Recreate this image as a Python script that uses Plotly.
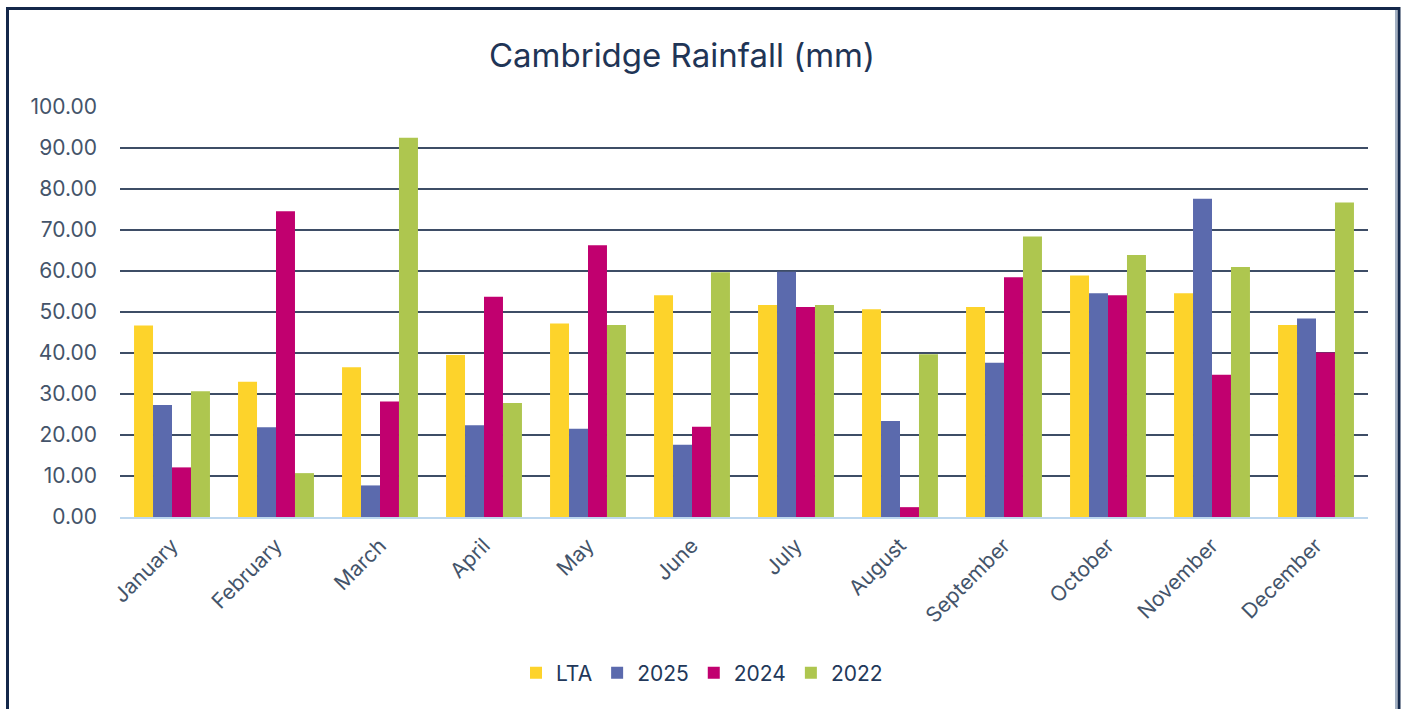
import plotly.graph_objects as go

months = ["January", "February", "March", "April", "May", "June", "July",
          "August", "September", "October", "November", "December"]
lta = [46.7, 33.0, 36.5, 39.5, 47.2, 54.1, 51.7, 50.7, 51.2, 58.9, 54.6, 46.8]
y2025 = [27.3, 21.9, 7.7, 22.4, 21.5, 17.6, 59.8, 23.4, 37.6, 54.6, 77.6, 48.4]
y2024 = [12.1, 74.6, 28.2, 53.7, 66.3, 22.0, 51.2, 2.4, 58.5, 54.1, 34.7, 40.1]
y2022 = [30.7, 10.7, 92.5, 27.8, 46.8, 59.7, 51.7, 39.7, 68.4, 63.9, 61.0, 76.7]
series_names = ["LTA", "2025", "2024", "2022"]
series_colors = ["#FDD32B", "#5B6AAD", "#C1006F", "#AEC64F"]
yticks = [0, 10, 20, 30, 40, 50, 60, 70, 80, 90, 100]

font_family = "Inter, Open Sans, sans-serif"
fig = go.Figure()
for name, vals, col in zip(series_names, [lta, y2025, y2024, y2022], series_colors):
    fig.add_trace(go.Bar(name=name, x=months, y=vals, marker=dict(color=col, line=dict(width=0))))

W, H = 1405, 709
L, R, T, B = 120, 37, 107, 192
pw, ph = W - L - R, H - T - B

def px_x(x):
    return (x - L) / pw

def px_y(y):
    return (H - B - y) / ph

fig.update_layout(
    width=W, height=H,
    margin=dict(l=L, r=R, t=T, b=B),
    paper_bgcolor="white", plot_bgcolor="white",
    barmode="group", bargap=0.27, bargroupgap=0,
    font=dict(family=font_family, color="#44546A", size=21),
    title=dict(text="Cambridge Rainfall (mm)", x=682 / W, xref="container", xanchor="center",
               y=1 - 55 / H, yref="container", yanchor="middle",
               font=dict(size=33, color="#1F3556", family=font_family)),
    showlegend=True,
    legend=dict(orientation="h", x=px_x(702), xanchor="center", y=px_y(673), yanchor="middle",
                font=dict(size=21, color="#22385A"), traceorder="normal", itemwidth=30),
    xaxis=dict(tickangle=-45, showgrid=False, showline=True, linecolor="#BDD7EE", linewidth=2,
               ticks="", tickfont=dict(size=21, color="#44546A"), ticklabelstandoff=6),
    yaxis=dict(range=[0, 100], tickvals=yticks, ticktext=[f"{v:.2f}" for v in yticks],
               showgrid=True, gridcolor="#3E4D66", gridwidth=2, zeroline=False,
               showline=False, ticks="", ticklabelstandoff=22,
               tickfont=dict(size=21, color="#44546A")),
    shapes=[
        dict(type="rect", xref="paper", yref="paper",
             x0=px_x(7.5), x1=px_x(1399), y0=px_y(730), y1=px_y(8.5),
             line=dict(color="#14284A", width=3), fillcolor="rgba(0,0,0,0)", layer="above"),
        dict(type="line", xref="paper", yref="paper",
             x0=px_x(1396), x1=px_x(1396), y0=px_y(730), y1=px_y(10),
             line=dict(color="#8497B0", width=1.5)),
    ],
)

fig.write_html("out.html")
